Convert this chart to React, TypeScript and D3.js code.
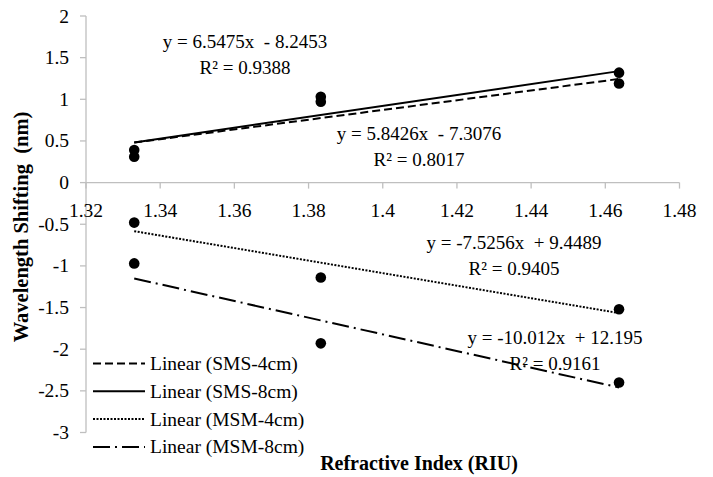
import { scaleLinear, line } from 'd3';

// refractive index of the test liquids
const refractiveIndex = [1.333, 1.3833, 1.4637];

const seriesNames = ['SMS-4cm', 'SMS-8cm', 'MSM-4cm', 'MSM-8cm'];
const sms4 = [0.31, 1.03, 1.19];
const sms8 = [0.39, 0.97, 1.32];
const msm4 = [-0.48, -1.14, -1.52];
const msm8 = [-0.97, -1.93, -2.4];

// trendline coefficients as printed on the chart
const slopes = [5.8426, 6.5475, -7.5256, -10.012];
const intercepts = [-7.3076, -8.2453, 9.4489, 12.195];
const r2 = ['0.8017', '0.9388', '0.9405', '0.9161'];
const eqText = [
  'y = 5.8426x \u00a0- 7.3076',
  'y = 6.5475x \u00a0- 8.2453',
  'y = -7.5256x \u00a0+ 9.4489',
  'y = -10.012x \u00a0+ 12.195',
];

const xTicks = [1.32, 1.34, 1.36, 1.38, 1.4, 1.42, 1.44, 1.46, 1.48];
const yTicks = [2, 1.5, 1, 0.5, 0, -0.5, -1, -1.5, -2, -2.5, -3];

// where the equation labels sit (pixel centre of first line)
const eqPos = [
  [419, 133],
  [245, 41],
  [514, 242],
  [555, 337],
];
const dashes = ['8,4', null, '2,1.5', '17,5,2,5'];

const W = 713;
const H = 477;
const left = 86;
const right = 679.5;
const top = 16;
const bottom = 432.5;
const font = '"Liberation Serif", "Times New Roman", serif';
const axisGray = '#bfbfbf';

export default function App() {
  const x = scaleLinear().domain([1.32, 1.48]).range([left, right]);
  const y = scaleLinear().domain([-3, 2]).range([bottom, top]);
  const values = [sms4, sms8, msm4, msm8];
  const x0 = Math.min(...refractiveIndex);
  const x1 = Math.max(...refractiveIndex);
  const trend = line<number>()
    .x((d) => x(d))
    .y((d) => y(d));

  return (
    <svg
      width={W}
      height={H}
      style={{ position: 'absolute', left: 0, top: 0, background: '#fff' }}
      fontFamily={font}
    >
      {/* y axis */}
      <line x1={left} x2={left} y1={top} y2={bottom} stroke={axisGray} strokeWidth={1.3} />
      {yTicks.map((t) => (
        <g key={'y' + t}>
          <line x1={left - 6} x2={left} y1={y(t)} y2={y(t)} stroke={axisGray} strokeWidth={1.3} />
          <text x={69} y={y(t)} textAnchor="end" dominantBaseline="central" fontSize={19.5}>
            {t}
          </text>
        </g>
      ))}
      {/* x axis at zero */}
      <line x1={left} x2={right} y1={y(0)} y2={y(0)} stroke={axisGray} strokeWidth={1.3} />
      {xTicks.map((t) => (
        <g key={'x' + t}>
          <line x1={x(t)} x2={x(t)} y1={y(0)} y2={y(0) + 6} stroke={axisGray} strokeWidth={1.3} />
          <text x={x(t)} y={210} textAnchor="middle" dominantBaseline="central" fontSize={19.5}>
            {t}
          </text>
        </g>
      ))}

      {/* trendlines */}
      {values.map((_, i) => {
        const f = (v: number) => slopes[i] * v + intercepts[i];
        return (
          <path
            key={'t' + i}
            d={trend.x((d) => x(d)).y((d) => y(f(d)))([x0, x1]) || ''}
            fill="none"
            stroke="#000"
            strokeWidth={2}
            strokeDasharray={dashes[i] || undefined}
          />
        );
      })}

      {/* data points */}
      {values.map((vals, i) =>
        vals.map((v, j) => (
          <circle key={'p' + i + j} cx={x(refractiveIndex[j])} cy={y(v)} r={5.3} fill="#000" />
        ))
      )}

      {/* equations */}
      {eqText.map((t, i) => (
        <g key={'e' + i} fontSize={19}>
          <text x={eqPos[i][0]} y={eqPos[i][1]} textAnchor="middle" dominantBaseline="central">
            {t}
          </text>
          <text x={eqPos[i][0]} y={eqPos[i][1] + 26} textAnchor="middle" dominantBaseline="central">
            {'R² = ' + r2[i]}
          </text>
        </g>
      ))}

      {/* legend */}
      {seriesNames.map((n, i) => {
        const ly = 363.5 + i * 27.8;
        return (
          <g key={'l' + i}>
            <line
              x1={93}
              x2={145}
              y1={ly}
              y2={ly}
              stroke="#000"
              strokeWidth={2}
              strokeDasharray={dashes[i] || undefined}
            />
            <text x={150} y={ly} dominantBaseline="central" fontSize={19.5}>
              {'Linear (' + n + ')'}
            </text>
          </g>
        );
      })}

      {/* axis titles */}
      <text x={419} y={463} textAnchor="middle" dominantBaseline="central" fontSize={20} fontWeight="bold">
        Refractive Index (RIU)
      </text>
      <text
        transform={`translate(21,227) rotate(-90)`}
        textAnchor="middle"
        dominantBaseline="central"
        fontSize={20.5}
        fontWeight="bold"
      >
        {'Wavelength Shifting \u00a0(nm)'}
      </text>
    </svg>
  );
}
